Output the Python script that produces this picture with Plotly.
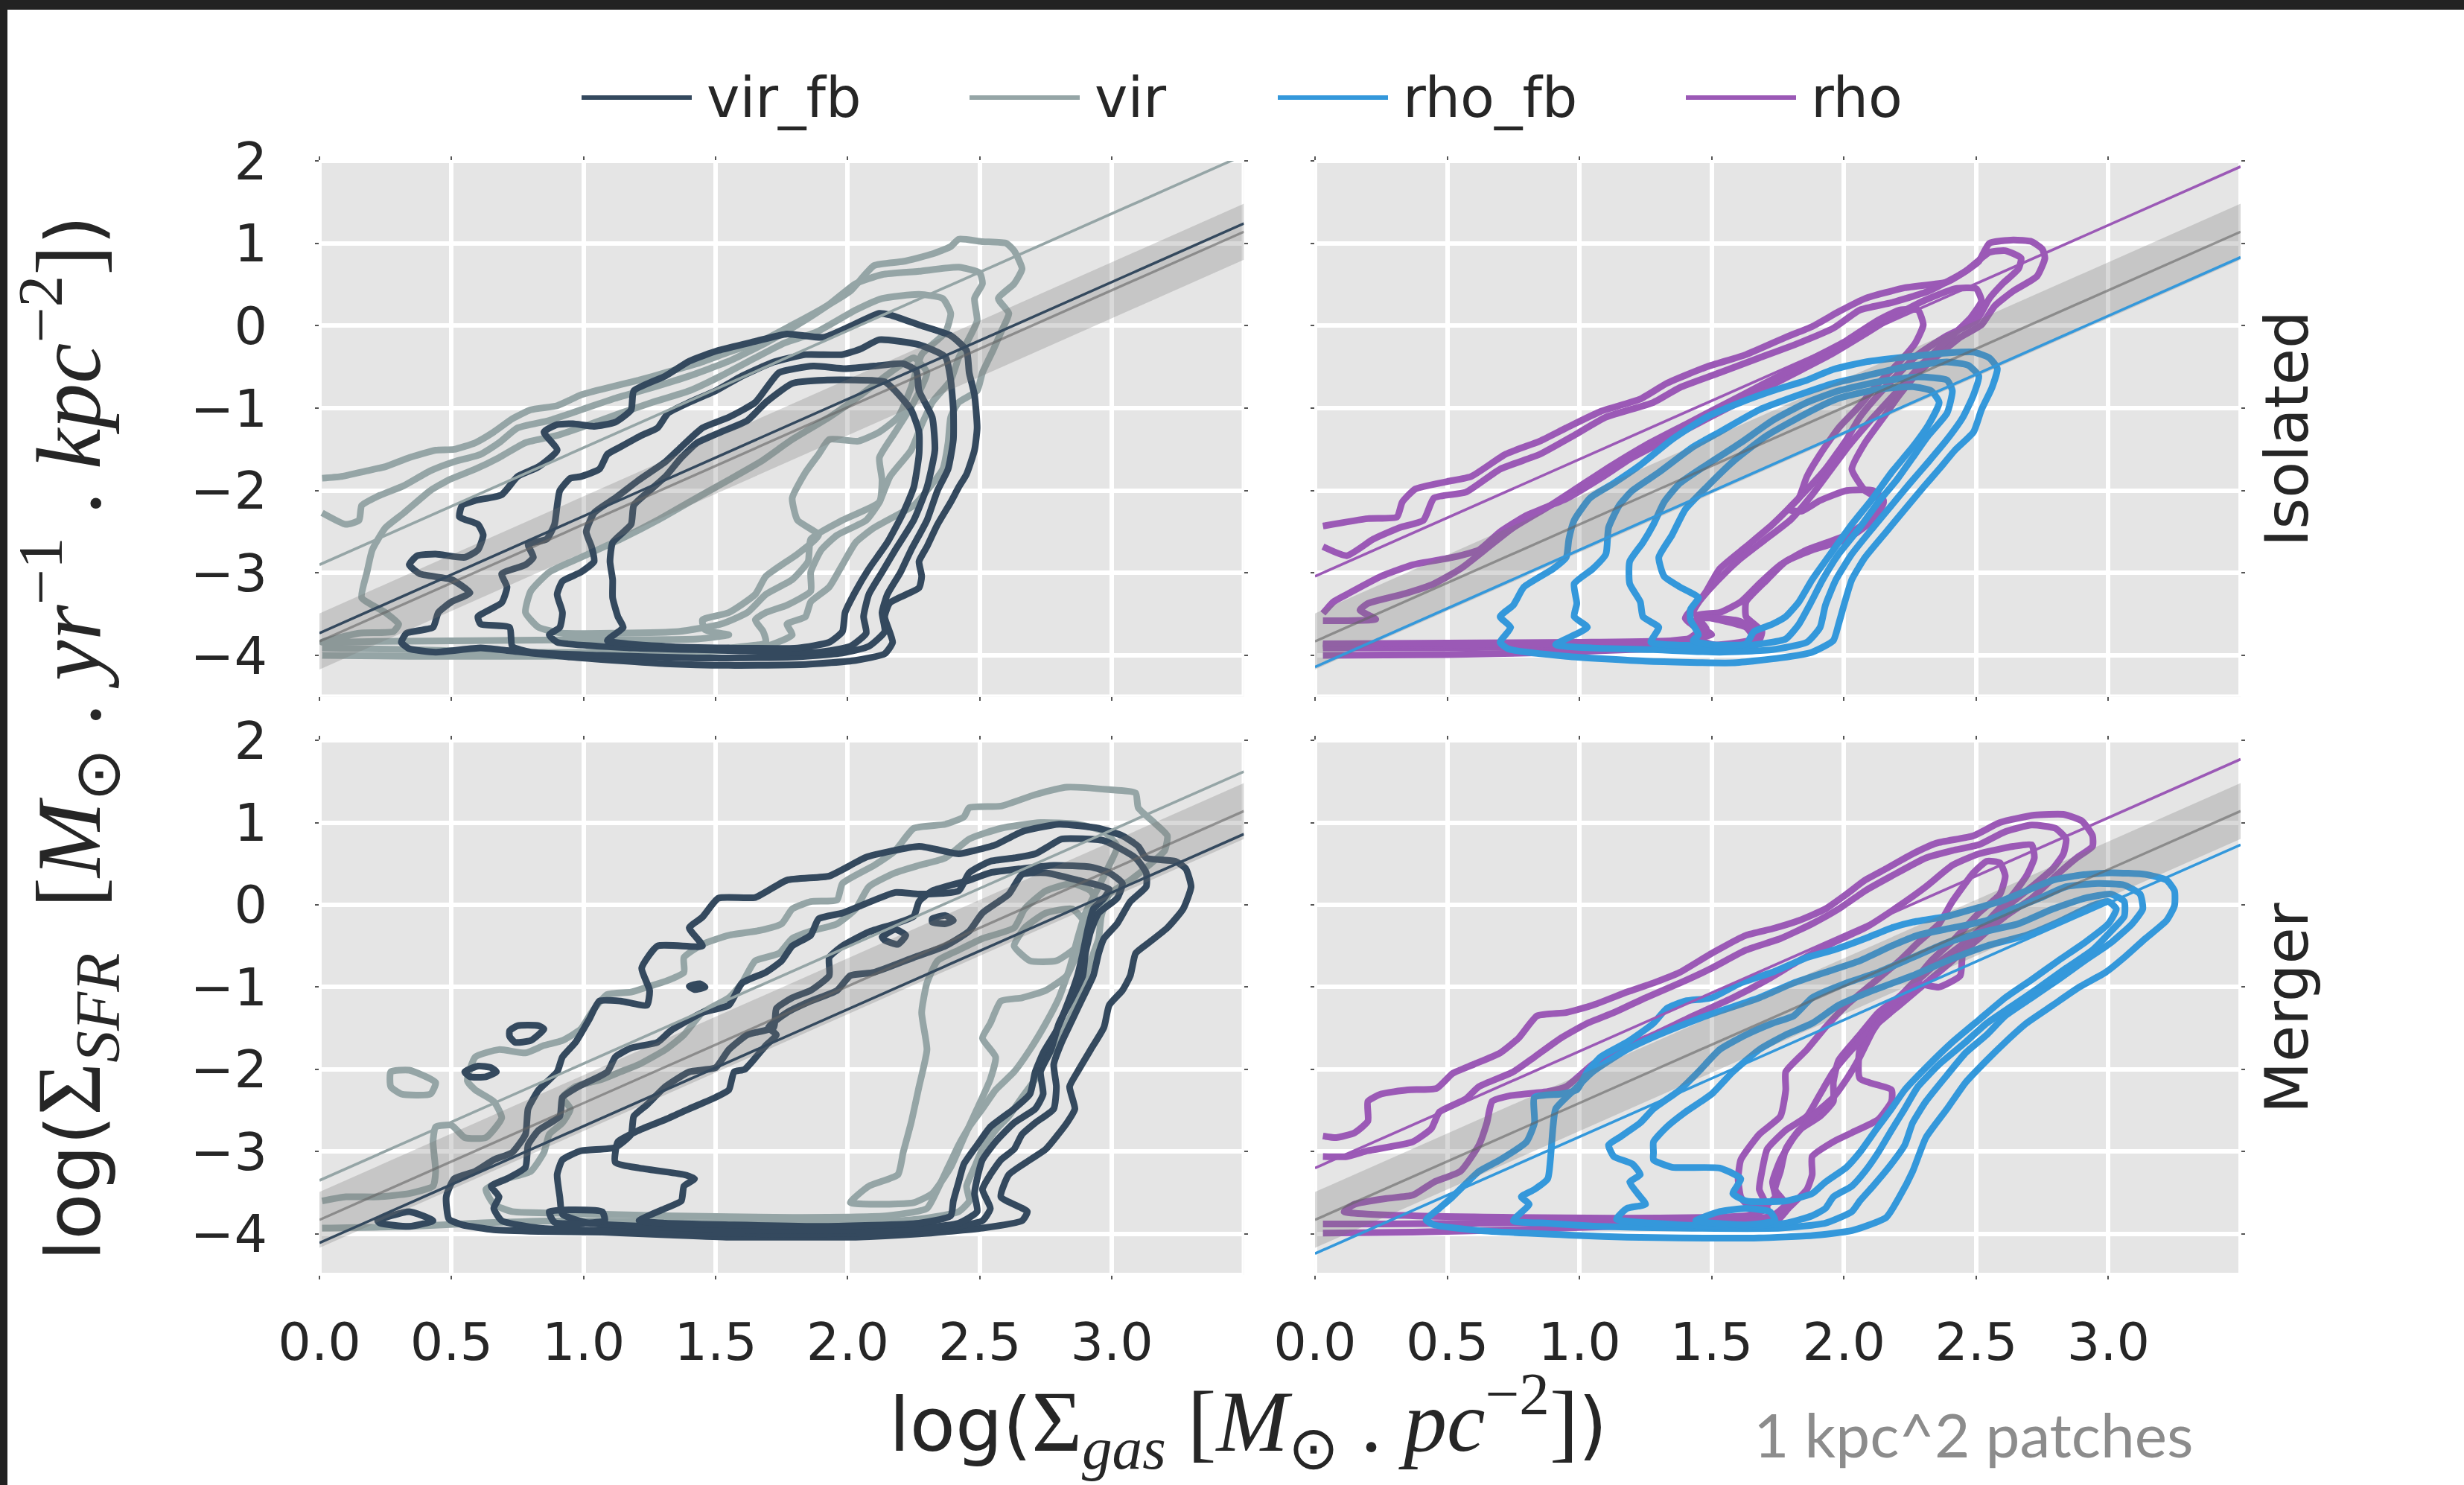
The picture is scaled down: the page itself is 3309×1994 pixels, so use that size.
import plotly.graph_objects as go

# ---------------------------------------------------------------- categories
SERIES = ["vir_fb", "vir", "rho_fb", "rho"]
SERIES_COLORS = {"vir_fb": "#34495e", "vir": "#95a5a6", "rho_fb": "#3498db", "rho": "#9b59b6"}
ROWS = ["Isolated", "Merger"]
# series shown in each column (drawn in this order)
COLUMN_SERIES = [["vir", "vir_fb"], ["rho", "rho_fb"]]

X_TICKS = [0.0, 0.5, 1.0, 1.5, 2.0, 2.5, 3.0]
X_TICK_TEXT = ["0.0", "0.5", "1.0", "1.5", "2.0", "2.5", "3.0"]
Y_TICKS = [-4, -3, -2, -1, 0, 1, 2]
Y_TICK_TEXT = ["\u22124", "\u22123", "\u22122", "\u22121", "0", "1", "2"]
X_RANGE = [0.0, 3.5]
Y_RANGE = [-4.5, 2.0]

# ------------------------------------------------------- linear fits (log-log)
FIT_SLOPE = 1.42
FIT_INTERCEPT_ISOLATED = {"vir_fb": -3.73, "vir": -2.90, "rho_fb": -4.14, "rho": -3.04}
FIT_INTERCEPT_MERGER = {"vir_fb": -4.11, "vir": -3.35, "rho_fb": -4.24, "rho": -3.20}

# Kennicutt-Schmidt reference relation and its scatter
KS_SLOPE = 1.42
KS_INTERCEPT = -3.83
KS_SCATTER = 0.34

# ------------------------------------------------ KDE contour lines (x, y)
ISOLATED_VIR_FB = [
    [(2.16, 0.13), (2.12, 0.15), (1.91, -0.14), (1.77, -0.10), (1.65, -0.19), (1.51, -0.30), (1.40, -0.43),
     (1.31, -0.61), (1.19, -0.79), (1.18, -1.02), (1.12, -1.17), (1.04, -1.22), (0.96, -1.19), (0.90, -1.20),
     (0.85, -1.29), (0.90, -1.51), (0.83, -1.71), (0.75, -1.83), (0.69, -2.05), (0.59, -2.12), (0.54, -2.18),
     (0.53, -2.32), (0.60, -2.41), (0.62, -2.54), (0.60, -2.72), (0.55, -2.81), (0.44, -2.77), (0.37, -2.79),
     (0.34, -2.90), (0.38, -3.01), (0.50, -3.08), (0.57, -3.24), (0.50, -3.35), (0.45, -3.48), (0.43, -3.66),
     (0.33, -3.73), (0.31, -3.84), (0.34, -3.92), (0.44, -3.96), (0.61, -3.91), (0.71, -3.94), (0.95, -4.02),
     (1.31, -4.10), (1.55, -4.12), (1.84, -4.11), (2.03, -4.06), (2.14, -3.98), (2.17, -3.84), (2.14, -3.53),
     (2.16, -3.36), (2.27, -3.18), (2.28, -3.04), (2.27, -2.86), (2.30, -2.68), (2.34, -2.41), (2.39, -2.14),
     (2.42, -1.96), (2.45, -1.80), (2.48, -1.51), (2.49, -1.24), (2.48, -0.84), (2.46, -0.57), (2.45, -0.30),
     (2.39, -0.12), (2.27, 0.01), (2.16, 0.13)],
    [(0.80, -3.96), (0.73, -3.89), (0.72, -3.66), (0.61, -3.62), (0.60, -3.53), (0.69, -3.36), (0.71, -3.17),
     (0.69, -3.01), (0.78, -2.90), (0.81, -2.81), (0.79, -2.65), (0.86, -2.59), (0.89, -2.41), (0.90, -2.18),
     (0.91, -2.00), (0.95, -1.85), (0.99, -1.83), (1.06, -1.74), (1.09, -1.56), (1.14, -1.47), (1.22, -1.33),
     (1.28, -1.24), (1.32, -1.06), (1.40, -0.93), (1.50, -0.79), (1.60, -0.61), (1.72, -0.44), (1.84, -0.35),
     (1.98, -0.35), (2.05, -0.28), (2.12, -0.17), (2.27, -0.23), (2.37, -0.38), (2.39, -0.66), (2.40, -1.02),
     (2.40, -1.38), (2.38, -1.74), (2.34, -2.00), (2.30, -2.36), (2.24, -2.72), (2.20, -2.99), (2.15, -3.26),
     (2.13, -3.48), (2.14, -3.71), (2.08, -3.89), (1.98, -3.97), (1.79, -4.02), (1.43, -4.03), (1.07, -4.00),
     (0.80, -3.96)],
    [(0.90, -3.84), (0.87, -3.75), (0.91, -3.66), (0.92, -3.48), (0.90, -3.26), (0.92, -3.10), (0.99, -2.99),
     (1.04, -2.86), (1.03, -2.68), (1.01, -2.50), (1.04, -2.27), (1.12, -2.09), (1.21, -1.87), (1.31, -1.65),
     (1.37, -1.47), (1.45, -1.24), (1.55, -1.11), (1.65, -0.93), (1.74, -0.57), (1.87, -0.49), (1.99, -0.52),
     (2.10, -0.49), (2.21, -0.46), (2.26, -0.55), (2.27, -0.79), (2.32, -1.11), (2.33, -1.51), (2.30, -1.96),
     (2.25, -2.36), (2.18, -2.72), (2.13, -2.99), (2.08, -3.26), (2.06, -3.53), (2.07, -3.73), (2.01, -3.89),
     (1.89, -3.96), (1.55, -3.94), (1.19, -3.91), (0.90, -3.84)],
    [(1.09, -3.82), (1.15, -3.66), (1.13, -3.53), (1.11, -3.30), (1.11, -3.08), (1.10, -2.86), (1.11, -2.63),
     (1.18, -2.41), (1.19, -2.18), (1.25, -2.00), (1.31, -1.83), (1.37, -1.60), (1.43, -1.42), (1.52, -1.29),
     (1.62, -1.15), (1.69, -0.93), (1.79, -0.70), (1.91, -0.66), (2.14, -0.68), (2.18, -0.79), (2.24, -1.02),
     (2.27, -1.29), (2.27, -1.56), (2.25, -1.96), (2.21, -2.27), (2.15, -2.63), (2.08, -2.95), (2.03, -3.22),
     (1.99, -3.48), (1.98, -3.71), (1.93, -3.84), (1.81, -3.91), (1.55, -3.91), (1.31, -3.89), (1.09, -3.82)],
]

ISOLATED_VIR = [
    [(0.01, -1.85), (0.08, -1.83), (0.18, -1.76), (0.25, -1.71), (0.34, -1.60), (0.44, -1.51), (0.51, -1.50),
     (0.59, -1.42), (0.66, -1.29), (0.73, -1.13), (0.80, -1.02), (0.90, -0.97), (0.99, -0.84), (1.07, -0.77),
     (1.21, -0.66), (1.31, -0.57), (1.43, -0.46), (1.55, -0.32), (1.67, -0.19), (1.79, 0.01), (1.91, 0.22),
     (2.01, 0.42), (2.10, 0.73), (2.21, 0.78), (2.32, 0.87), (2.39, 0.96), (2.42, 1.05), (2.51, 1.02),
     (2.60, 1.00), (2.63, 0.91), (2.66, 0.69), (2.63, 0.51), (2.57, 0.33), (2.61, 0.15), (2.58, -0.08),
     (2.55, -0.30), (2.51, -0.57), (2.49, -0.79), (2.42, -0.93), (2.39, -1.11), (2.38, -1.42), (2.36, -1.74),
     (2.30, -2.00), (2.25, -2.18), (2.10, -2.45), (2.03, -2.63), (1.98, -2.90), (1.93, -3.17), (1.86, -3.35),
     (1.84, -3.53), (1.77, -3.62), (1.79, -3.75), (1.69, -3.89), (1.31, -3.98), (0.83, -4.01), (0.34, -4.01),
     (0.01, -4.00)],
    [(0.01, -2.27), (0.10, -2.41), (0.15, -2.36), (0.16, -2.18), (0.22, -2.07), (0.32, -1.94), (0.42, -1.76),
     (0.51, -1.65), (0.61, -1.56), (0.68, -1.42), (0.75, -1.24), (0.87, -1.15), (0.99, -1.02), (1.12, -0.88),
     (1.26, -0.75), (1.40, -0.61), (1.55, -0.43), (1.69, -0.21), (1.81, 0.01), (1.93, 0.26), (2.03, 0.51),
     (2.13, 0.62), (2.27, 0.66), (2.42, 0.71), (2.50, 0.64), (2.51, 0.51), (2.48, 0.33), (2.49, 0.06),
     (2.45, -0.21), (2.42, -0.39), (2.39, -0.66), (2.32, -0.93), (2.28, -1.20), (2.24, -1.51), (2.16, -1.83),
     (2.12, -2.14), (2.07, -2.36), (1.96, -2.54), (1.90, -2.72), (1.86, -2.99), (1.86, -3.22), (1.77, -3.39),
     (1.69, -3.48), (1.65, -3.57), (1.68, -3.71), (1.69, -3.84), (1.55, -3.91), (1.19, -3.96), (0.71, -3.96),
     (0.34, -3.93), (0.01, -3.91)],
    [(0.01, -3.84), (0.15, -3.73), (0.28, -3.71), (0.30, -3.62), (0.25, -3.48), (0.16, -3.30), (0.18, -2.99),
     (0.20, -2.72), (0.25, -2.45), (0.32, -2.27), (0.42, -2.00), (0.49, -1.87), (0.59, -1.74), (0.68, -1.60),
     (0.78, -1.42), (0.90, -1.33), (1.02, -1.20), (1.14, -1.06), (1.26, -0.93), (1.40, -0.79), (1.52, -0.61),
     (1.65, -0.39), (1.76, -0.21), (1.88, -0.08), (2.03, 0.19), (2.13, 0.33), (2.27, 0.38), (2.36, 0.33),
     (2.39, 0.15), (2.37, -0.08), (2.28, -0.35), (2.24, -0.75), (2.19, -1.11), (2.12, -1.29), (2.04, -1.40),
     (1.93, -1.38), (1.89, -1.56), (1.84, -1.78), (1.79, -2.09), (1.81, -2.36), (1.89, -2.54), (1.81, -2.77),
     (1.69, -3.04), (1.65, -3.26), (1.55, -3.48), (1.45, -3.57), (1.46, -3.69), (1.55, -3.75), (1.43, -3.80),
     (1.07, -3.81), (0.59, -3.82), (0.21, -3.83), (0.01, -3.84)],
    [(0.83, -3.66), (0.78, -3.48), (0.80, -3.22), (0.87, -2.99), (0.99, -2.81), (1.14, -2.59), (1.28, -2.36),
     (1.40, -2.14), (1.55, -1.87), (1.67, -1.65), (1.79, -1.38), (1.93, -1.11), (2.05, -0.84), (2.16, -0.57),
     (2.25, -0.39), (2.30, -0.57), (2.25, -0.93), (2.18, -1.29), (2.12, -1.60), (2.13, -1.87), (2.12, -2.14),
     (1.98, -2.36), (1.86, -2.59), (1.85, -2.86), (1.79, -3.08), (1.69, -3.26), (1.62, -3.48), (1.52, -3.62),
     (1.36, -3.71), (1.12, -3.73), (0.92, -3.73), (0.83, -3.66)],
]

ISOLATED_RHO_FB = [
    [(0.70, -3.84), (0.74, -3.66), (0.70, -3.53), (0.75, -3.39), (0.79, -3.17), (0.90, -2.95), (0.95, -2.81),
     (0.96, -2.59), (0.98, -2.36), (1.04, -2.09), (1.13, -1.91), (1.23, -1.69), (1.35, -1.38), (1.48, -1.11),
     (1.61, -0.93), (1.73, -0.79), (1.86, -0.66), (1.96, -0.53), (2.08, -0.44), (2.23, -0.38), (2.39, -0.33),
     (2.49, -0.32), (2.55, -0.39), (2.58, -0.52), (2.56, -0.75), (2.52, -1.02), (2.49, -1.29), (2.42, -1.51),
     (2.36, -1.74), (2.30, -1.96), (2.23, -2.23), (2.16, -2.50), (2.08, -2.81), (2.03, -3.08), (2.00, -3.39),
     (1.98, -3.62), (1.96, -3.82), (1.88, -3.96), (1.76, -4.03), (1.58, -4.09), (1.25, -4.07), (0.95, -4.01),
     (0.73, -3.92), (0.70, -3.84)],
    [(0.91, -3.87), (1.03, -3.66), (0.98, -3.53), (0.99, -3.37), (0.98, -3.13), (1.05, -2.95), (1.10, -2.77),
     (1.11, -2.45), (1.15, -2.18), (1.20, -2.00), (1.30, -1.78), (1.43, -1.47), (1.53, -1.29), (1.68, -1.02),
     (1.83, -0.84), (1.96, -0.70), (2.08, -0.61), (2.23, -0.50), (2.39, -0.44), (2.47, -0.48), (2.51, -0.61),
     (2.49, -0.84), (2.45, -1.11), (2.39, -1.38), (2.32, -1.65), (2.25, -1.91), (2.18, -2.18), (2.11, -2.45),
     (2.03, -2.77), (1.97, -3.08), (1.93, -3.39), (1.91, -3.66), (1.86, -3.84), (1.73, -3.93), (1.53, -3.96),
     (1.28, -3.93), (1.05, -3.91), (0.91, -3.87)],
    [(1.27, -3.84), (1.30, -3.66), (1.24, -3.53), (1.23, -3.35), (1.19, -3.13), (1.19, -2.86), (1.24, -2.63),
     (1.28, -2.41), (1.32, -2.14), (1.38, -1.91), (1.48, -1.69), (1.61, -1.42), (1.73, -1.15), (1.86, -0.93),
     (1.98, -0.79), (2.13, -0.68), (2.28, -0.62), (2.39, -0.66), (2.41, -0.79), (2.39, -1.06), (2.32, -1.33),
     (2.26, -1.60), (2.20, -1.87), (2.13, -2.14), (2.06, -2.45), (1.98, -2.77), (1.92, -3.08), (1.87, -3.39),
     (1.83, -3.62), (1.78, -3.80), (1.63, -3.88), (1.43, -3.88), (1.27, -3.84)],
    [(1.43, -3.82), (1.45, -3.75), (1.42, -3.57), (1.42, -3.44), (1.45, -3.30), (1.38, -3.17), (1.32, -3.04),
     (1.30, -2.81), (1.35, -2.54), (1.40, -2.23), (1.48, -1.96), (1.58, -1.65), (1.71, -1.33), (1.86, -1.06),
     (1.98, -0.88), (2.13, -0.77), (2.26, -0.74), (2.33, -0.79), (2.36, -0.93), (2.32, -1.20), (2.26, -1.47),
     (2.18, -1.78), (2.11, -2.09), (2.03, -2.41), (1.96, -2.72), (1.88, -3.08), (1.83, -3.35), (1.78, -3.53),
     (1.73, -3.62), (1.66, -3.71), (1.63, -3.86), (1.50, -3.87), (1.43, -3.82)],
]

ISOLATED_RHO = [
    [(0.03, -2.43), (0.20, -2.34), (0.31, -2.32), (0.33, -2.14), (0.38, -1.98), (0.50, -1.89), (0.59, -1.83),
     (0.72, -1.56), (0.85, -1.40), (0.95, -1.24), (1.08, -1.04), (1.23, -0.89), (1.33, -0.70), (1.48, -0.50),
     (1.63, -0.35), (1.78, -0.14), (1.88, -0.01), (1.98, 0.17), (2.08, 0.33), (2.23, 0.46), (2.39, 0.53),
     (2.45, 0.64), (2.51, 0.78), (2.55, 1.00), (2.64, 1.04), (2.71, 1.02), (2.75, 0.93), (2.76, 0.82),
     (2.73, 0.60), (2.64, 0.42), (2.57, 0.24), (2.52, 0.01), (2.44, -0.14), (2.36, -0.35), (2.28, -0.57),
     (2.21, -0.84), (2.15, -1.11), (2.08, -1.42), (2.03, -1.74), (2.08, -2.00), (2.15, -2.14), (2.11, -2.36),
     (2.01, -2.59), (1.88, -2.72), (1.78, -2.86), (1.71, -3.08), (1.63, -3.35), (1.63, -3.53), (1.69, -3.71),
     (1.67, -3.87), (1.50, -3.91), (1.27, -3.92), (0.93, -3.96), (0.50, -3.99), (0.03, -4.00)],
    [(0.03, -2.68), (0.12, -2.79), (0.22, -2.59), (0.32, -2.45), (0.41, -2.36), (0.45, -2.09), (0.57, -2.02),
     (0.70, -1.74), (0.85, -1.56), (0.98, -1.33), (1.10, -1.11), (1.28, -0.93), (1.38, -0.75), (1.53, -0.57),
     (1.68, -0.39), (1.83, -0.21), (1.96, -0.03), (2.06, 0.19), (2.18, 0.28), (2.32, 0.42), (2.46, 0.66),
     (2.55, 0.89), (2.61, 0.91), (2.67, 0.82), (2.66, 0.69), (2.60, 0.51), (2.55, 0.33), (2.50, 0.06),
     (2.39, -0.12), (2.28, -0.35), (2.21, -0.57), (2.13, -0.84), (2.06, -1.11), (2.01, -1.38), (1.93, -1.74),
     (1.83, -2.09), (1.73, -2.41), (1.63, -2.68), (1.53, -2.95), (1.48, -3.22), (1.43, -3.48), (1.53, -3.57),
     (1.63, -3.66), (1.66, -3.80), (1.53, -3.87), (1.27, -3.87), (0.93, -3.89), (0.50, -3.91), (0.03, -3.91)],
    [(0.03, -3.49), (0.07, -3.35), (0.12, -3.26), (0.25, -3.04), (0.37, -2.90), (0.52, -2.81), (0.62, -2.72),
     (0.70, -2.50), (0.80, -2.30), (0.95, -2.10), (1.08, -1.85), (1.20, -1.60), (1.35, -1.35), (1.50, -1.10),
     (1.65, -0.85), (1.80, -0.60), (1.95, -0.35), (2.08, -0.10), (2.18, 0.10), (2.30, 0.30), (2.42, 0.45),
     (2.50, 0.45), (2.52, 0.30), (2.48, 0.10), (2.40, -0.15), (2.30, -0.45), (2.20, -0.80), (2.10, -1.15),
     (2.02, -1.45), (1.95, -1.75), (1.88, -2.05), (1.80, -2.35), (1.70, -2.60), (1.60, -2.85), (1.52, -3.10),
     (1.45, -3.35), (1.40, -3.55), (1.45, -3.70), (1.40, -3.82), (1.20, -3.85), (0.90, -3.86), (0.50, -3.87),
     (0.03, -3.88)],
    [(0.03, -3.58), (0.23, -3.56), (0.17, -3.45), (0.20, -3.37), (0.34, -3.25), (0.45, -3.13), (0.55, -2.95),
     (0.65, -2.70), (0.75, -2.45), (0.88, -2.20), (1.00, -1.95), (1.12, -1.70), (1.25, -1.45), (1.40, -1.20),
     (1.55, -0.95), (1.70, -0.70), (1.85, -0.45), (2.00, -0.20), (2.12, 0.05), (2.21, 0.19), (2.28, 0.19),
     (2.30, 0.01), (2.27, -0.21), (2.21, -0.44), (2.13, -0.70), (2.06, -0.97), (1.98, -1.24), (1.91, -1.56),
     (1.86, -1.83), (1.83, -2.09), (1.79, -2.23), (1.84, -2.25), (1.91, -2.12), (2.01, -2.00), (2.11, -2.00),
     (2.15, -2.12), (2.11, -2.32), (2.01, -2.54), (1.86, -2.72), (1.76, -2.90), (1.68, -3.13), (1.61, -3.35),
     (1.53, -3.48), (1.45, -3.51), (1.44, -3.62), (1.50, -3.75), (1.35, -3.82), (1.00, -3.84), (0.50, -3.85),
     (0.03, -3.86)],
    [(1.45, -3.55), (1.60, -3.58), (1.68, -3.72), (1.64, -3.85), (1.52, -3.88), (1.45, -3.80), (1.48, -3.68),
     (1.45, -3.55)],
]

MERGER_VIR_FB = [
    [(0.48, -3.55), (0.51, -3.33), (0.59, -3.24), (0.66, -3.10), (0.73, -3.01), (0.78, -2.79), (0.79, -2.48),
     (0.83, -2.25), (0.90, -2.03), (0.92, -1.85), (0.97, -1.67), (1.02, -1.40), (1.06, -1.17), (1.14, -1.17),
     (1.24, -1.22), (1.25, -1.04), (1.22, -0.77), (1.28, -0.50), (1.45, -0.50), (1.40, -0.28), (1.45, -0.15),
     (1.51, 0.08), (1.65, 0.09), (1.77, 0.30), (1.93, 0.35), (2.01, 0.48), (2.07, 0.58), (2.27, 0.71),
     (2.42, 0.62), (2.48, 0.66), (2.56, 0.73), (2.66, 0.89), (2.80, 0.98), (2.95, 0.93), (3.04, 0.84),
     (3.10, 0.71), (3.13, 0.57), (3.24, 0.53), (3.28, 0.44), (3.30, 0.22), (3.27, -0.05), (3.21, -0.28),
     (3.14, -0.46), (3.09, -0.59), (3.07, -0.86), (3.04, -1.04), (2.99, -1.22), (2.97, -1.49), (2.92, -1.76),
     (2.87, -2.03), (2.84, -2.21), (2.86, -2.48), (2.83, -2.65), (2.75, -2.97), (2.69, -3.10), (2.61, -3.28),
     (2.58, -3.55), (2.68, -3.73), (2.66, -3.84), (2.51, -3.93), (2.27, -4.00), (2.03, -4.04), (1.79, -4.04),
     (1.55, -4.04), (1.31, -4.01), (1.07, -3.98), (0.83, -3.97), (0.66, -3.95), (0.54, -3.89), (0.49, -3.82),
     (0.48, -3.55)],
    [(0.66, -3.69), (0.68, -3.55), (0.65, -3.42), (0.71, -3.33), (0.78, -3.19), (0.79, -2.92), (0.83, -2.74),
     (0.91, -2.57), (0.92, -2.34), (0.98, -2.21), (1.09, -2.03), (1.12, -1.85), (1.18, -1.74), (1.28, -1.67),
     (1.33, -1.53), (1.45, -1.31), (1.55, -1.22), (1.60, -0.95), (1.69, -0.82), (1.75, -0.68), (1.79, -0.50),
     (1.86, -0.37), (1.89, -0.17), (1.98, -0.10), (2.05, -0.01), (2.18, 0.15), (2.27, 0.13), (2.42, 0.17),
     (2.46, 0.39), (2.54, 0.53), (2.63, 0.57), (2.71, 0.62), (2.77, 0.73), (2.81, 0.80), (2.97, 0.78),
     (3.09, 0.57), (3.13, 0.39), (3.13, 0.22), (3.07, 0.04), (3.02, -0.23), (2.97, -0.41), (2.95, -0.59),
     (2.93, -0.86), (2.89, -1.13), (2.85, -1.40), (2.81, -1.67), (2.78, -1.94), (2.79, -2.21), (2.78, -2.48),
     (2.71, -2.65), (2.66, -2.79), (2.63, -2.97), (2.58, -3.10), (2.54, -3.28), (2.51, -3.46), (2.54, -3.69),
     (2.51, -3.84), (2.37, -3.93), (2.03, -3.99), (1.79, -4.00), (1.43, -3.99), (1.07, -3.96), (0.83, -3.93),
     (0.69, -3.84), (0.66, -3.69)],
    [(0.92, -3.76), (0.91, -3.55), (0.90, -3.28), (0.92, -3.10), (0.99, -2.99), (1.12, -2.95), (1.18, -2.79),
     (1.19, -2.57), (1.24, -2.43), (1.31, -2.21), (1.40, -2.03), (1.50, -1.98), (1.55, -1.76), (1.62, -1.58),
     (1.72, -1.49), (1.73, -1.26), (1.79, -1.13), (1.86, -1.04), (1.93, -0.86), (1.93, -0.64), (1.98, -0.50),
     (2.08, -0.33), (2.18, -0.23), (2.25, -0.14), (2.27, 0.04), (2.32, 0.17), (2.46, 0.30), (2.54, 0.39),
     (2.66, 0.44), (2.78, 0.48), (2.92, 0.46), (2.99, 0.39), (3.04, 0.26), (3.02, 0.08), (2.95, -0.10),
     (2.92, -0.32), (2.90, -0.59), (2.89, -0.86), (2.85, -1.13), (2.80, -1.44), (2.77, -1.76), (2.73, -2.03),
     (2.74, -2.30), (2.71, -2.48), (2.63, -2.65), (2.56, -2.88), (2.51, -3.10), (2.49, -3.33), (2.48, -3.51),
     (2.49, -3.73), (2.42, -3.87), (2.27, -3.93), (1.91, -3.96), (1.55, -3.95), (1.24, -3.91), (1.02, -3.87),
     (0.92, -3.76)],
    [(1.21, -3.84), (1.31, -3.69), (1.37, -3.60), (1.38, -3.42), (1.42, -3.33), (1.38, -3.28), (1.21, -3.20),
     (1.12, -3.13), (1.13, -2.88), (1.21, -2.74), (1.31, -2.61), (1.40, -2.48), (1.50, -2.34), (1.55, -2.25),
     (1.57, -2.03), (1.61, -2.00), (1.69, -1.71), (1.73, -1.58), (1.70, -1.49), (1.77, -1.31), (1.86, -1.17),
     (1.96, -1.04), (2.01, -0.86), (2.10, -0.82), (2.25, -0.64), (2.37, -0.50), (2.46, -0.32), (2.51, -0.10),
     (2.61, 0.13), (2.66, 0.37), (2.75, 0.39), (2.87, 0.30), (2.99, 0.19), (2.97, 0.08), (2.93, -0.05),
     (2.91, -0.28), (2.89, -0.59), (2.87, -0.86), (2.83, -1.22), (2.79, -1.53), (2.74, -1.80), (2.71, -2.03),
     (2.69, -2.30), (2.63, -2.48), (2.54, -2.70), (2.49, -2.92), (2.44, -3.15), (2.42, -3.37), (2.40, -3.60),
     (2.39, -3.78), (2.27, -3.87), (1.91, -3.91), (1.55, -3.89), (1.31, -3.87), (1.21, -3.84)],
    [(0.22, -3.84), (0.34, -3.73), (0.43, -3.84), (0.34, -3.91), (0.23, -3.87), (0.22, -3.84)],
    [(0.87, -3.73), (1.07, -3.73), (1.08, -3.84), (0.89, -3.86), (0.87, -3.73)],
    [(0.72, -1.53), (0.75, -1.47), (0.83, -1.47), (0.85, -1.51), (0.80, -1.65), (0.74, -1.67), (0.72, -1.60),
     (0.72, -1.53)],
    [(0.55, -2.03), (0.60, -1.96), (0.65, -1.98), (0.67, -2.03), (0.63, -2.09), (0.57, -2.09), (0.55, -2.03)],
    [(2.13, -0.39), (2.18, -0.30), (2.22, -0.37), (2.19, -0.48), (2.14, -0.43), (2.13, -0.39)],
    [(2.32, -0.17), (2.37, -0.13), (2.40, -0.19), (2.37, -0.23), (2.32, -0.21), (2.32, -0.17)],
    [(1.40, -0.99), (1.44, -0.96), (1.46, -1.00), (1.42, -1.03), (1.40, -0.99)],
]

MERGER_VIR = [
    [(0.01, -3.60), (0.10, -3.55), (0.22, -3.55), (0.34, -3.51), (0.43, -3.42), (0.44, -3.24), (0.43, -2.88),
     (0.44, -2.70), (0.50, -2.68), (0.55, -2.83), (0.63, -2.83), (0.69, -2.59), (0.66, -2.39), (0.59, -2.25),
     (0.56, -2.14), (0.59, -1.85), (0.68, -1.76), (0.78, -1.80), (0.85, -1.71), (0.92, -1.65), (0.99, -1.51),
     (1.03, -1.31), (1.09, -1.09), (1.18, -1.06), (1.24, -1.00), (1.31, -0.93), (1.38, -0.82), (1.38, -0.64),
     (1.45, -0.48), (1.55, -0.37), (1.67, -0.31), (1.75, -0.23), (1.79, -0.05), (1.86, 0.04), (1.96, 0.06),
     (1.98, 0.26), (2.10, 0.48), (2.18, 0.66), (2.25, 0.93), (2.37, 0.98), (2.44, 1.07), (2.46, 1.18),
     (2.58, 1.20), (2.71, 1.34), (2.83, 1.43), (2.99, 1.40), (3.09, 1.36), (3.10, 1.18), (3.16, 1.00),
     (3.21, 0.84), (3.20, 0.66), (3.14, 0.48), (3.07, 0.30), (2.99, 0.13), (2.96, -0.14), (2.95, -0.41),
     (2.92, -0.68), (2.89, -1.00), (2.85, -1.31), (2.80, -1.62), (2.75, -1.89), (2.71, -2.12), (2.66, -2.34),
     (2.61, -2.57), (2.56, -2.74), (2.51, -2.97), (2.48, -3.19), (2.45, -3.42), (2.46, -3.60), (2.42, -3.73),
     (2.27, -3.82), (2.03, -3.87), (1.67, -3.87), (1.31, -3.86), (0.95, -3.84), (0.59, -3.87), (0.34, -3.91),
     (0.01, -3.93)],
    [(0.66, -3.64), (0.63, -3.46), (0.71, -3.33), (0.80, -3.24), (0.85, -3.01), (0.87, -2.79), (0.92, -2.65),
     (0.95, -2.48), (0.92, -2.34), (0.97, -2.21), (1.07, -2.12), (1.14, -2.03), (1.21, -1.94), (1.31, -1.76),
     (1.38, -1.58), (1.45, -1.31), (1.55, -1.13), (1.60, -0.95), (1.65, -0.68), (1.74, -0.59), (1.79, -0.41),
     (1.86, -0.32), (1.96, -0.23), (2.03, -0.05), (2.08, 0.22), (2.18, 0.39), (2.27, 0.48), (2.37, 0.57),
     (2.46, 0.80), (2.58, 0.93), (2.73, 1.00), (2.87, 0.98), (2.97, 0.89), (3.02, 0.71), (2.99, 0.48),
     (2.95, 0.22), (2.90, -0.10), (2.87, -0.41), (2.84, -0.77), (2.80, -1.13), (2.75, -1.44), (2.69, -1.76),
     (2.63, -2.03), (2.56, -2.25), (2.51, -2.48), (2.46, -2.70), (2.42, -2.92), (2.38, -3.19), (2.34, -3.46),
     (2.30, -3.69), (2.15, -3.78), (1.79, -3.80), (1.31, -3.78), (0.95, -3.75), (0.73, -3.73), (0.66, -3.64)],
    [(2.01, -3.62), (2.08, -3.42), (2.19, -3.28), (2.21, -3.01), (2.24, -2.65), (2.27, -2.21), (2.30, -1.76),
     (2.28, -1.31), (2.30, -0.95), (2.34, -0.68), (2.42, -0.55), (2.51, -0.41), (2.63, -0.28), (2.67, -0.05),
     (2.75, 0.17), (2.85, 0.26), (2.92, 0.17), (2.95, -0.05), (2.92, -0.32), (2.87, -0.59), (2.83, -0.86),
     (2.75, -1.04), (2.66, -1.13), (2.58, -1.17), (2.54, -1.44), (2.51, -1.62), (2.56, -1.85), (2.54, -2.12),
     (2.49, -2.48), (2.44, -2.83), (2.39, -3.19), (2.32, -3.51), (2.25, -3.62), (2.13, -3.64), (2.01, -3.62)],
    [(2.63, -0.50), (2.67, -0.28), (2.75, -0.10), (2.85, -0.05), (2.90, -0.23), (2.87, -0.50), (2.79, -0.68),
     (2.69, -0.68), (2.63, -0.50)],
    [(0.27, -2.03), (0.34, -2.01), (0.44, -2.16), (0.42, -2.30), (0.31, -2.30), (0.27, -2.21), (0.27, -2.03)],
]

MERGER_RHO_FB = [
    [(0.42, -3.83), (0.47, -3.69), (0.52, -3.55), (0.62, -3.24), (0.70, -3.10), (0.80, -2.88), (0.83, -2.65),
     (0.83, -2.34), (0.93, -2.30), (0.99, -2.25), (1.03, -2.03), (1.08, -1.85), (1.18, -1.67), (1.28, -1.44),
     (1.33, -1.26), (1.40, -1.17), (1.50, -1.13), (1.61, -0.95), (1.73, -0.82), (1.86, -0.64), (1.96, -0.55),
     (2.08, -0.41), (2.18, -0.28), (2.26, -0.21), (2.39, -0.14), (2.49, -0.05), (2.59, 0.04), (2.69, 0.17),
     (2.79, 0.30), (2.89, 0.36), (3.01, 0.39), (3.14, 0.37), (3.22, 0.30), (3.25, 0.17), (3.25, -0.01),
     (3.22, -0.19), (3.14, -0.41), (3.06, -0.64), (2.99, -0.82), (2.89, -1.00), (2.79, -1.22), (2.69, -1.44),
     (2.61, -1.67), (2.54, -1.89), (2.46, -2.16), (2.39, -2.48), (2.31, -2.83), (2.26, -3.24), (2.21, -3.55),
     (2.16, -3.80), (2.03, -3.96), (1.88, -4.02), (1.68, -4.05), (1.38, -4.05), (1.18, -4.04), (1.00, -4.02),
     (0.62, -3.96), (0.45, -3.89), (0.42, -3.83)],
    [(0.75, -3.84), (0.81, -3.64), (0.78, -3.55), (0.83, -3.46), (0.88, -3.33), (0.89, -3.10), (0.90, -2.70),
     (0.91, -2.48), (0.98, -2.25), (1.05, -2.03), (1.18, -1.76), (1.30, -1.58), (1.48, -1.35), (1.68, -1.13),
     (1.81, -0.95), (1.93, -0.82), (2.06, -0.68), (2.18, -0.50), (2.28, -0.37), (2.41, -0.28), (2.54, -0.19),
     (2.64, -0.05), (2.74, 0.08), (2.84, 0.22), (2.96, 0.26), (3.06, 0.24), (3.12, 0.13), (3.13, -0.05),
     (3.09, -0.23), (3.01, -0.46), (2.91, -0.68), (2.81, -0.91), (2.71, -1.13), (2.61, -1.35), (2.54, -1.58),
     (2.46, -1.80), (2.39, -2.07), (2.31, -2.39), (2.26, -2.65), (2.23, -2.92), (2.17, -3.19), (2.11, -3.42),
     (2.06, -3.60), (2.03, -3.73), (1.93, -3.87), (1.76, -3.93), (1.38, -3.93), (1.08, -3.91), (0.88, -3.87),
     (0.75, -3.84)],
    [(1.14, -3.82), (1.18, -3.69), (1.25, -3.64), (1.22, -3.51), (1.19, -3.37), (1.23, -3.28), (1.20, -3.15),
     (1.13, -3.06), (1.11, -2.92), (1.15, -2.83), (1.23, -2.65), (1.28, -2.48), (1.38, -2.25), (1.45, -2.03),
     (1.53, -1.76), (1.63, -1.58), (1.73, -1.44), (1.81, -1.35), (1.88, -1.13), (2.01, -0.95), (2.13, -0.82),
     (2.26, -0.64), (2.39, -0.46), (2.54, -0.32), (2.66, -0.23), (2.79, -0.05), (2.91, 0.08), (3.01, 0.13),
     (3.06, 0.04), (3.06, -0.14), (3.01, -0.32), (2.94, -0.55), (2.84, -0.77), (2.74, -1.00), (2.64, -1.22),
     (2.54, -1.44), (2.46, -1.67), (2.36, -1.94), (2.28, -2.21), (2.23, -2.48), (2.18, -2.74), (2.13, -3.01),
     (2.08, -3.24), (2.03, -3.42), (1.96, -3.55), (1.93, -3.69), (1.88, -3.78), (1.78, -3.87), (1.63, -3.91),
     (1.38, -3.89), (1.14, -3.82)],
    [(1.28, -3.01), (1.28, -2.88), (1.33, -2.70), (1.40, -2.52), (1.50, -2.30), (1.58, -2.03), (1.68, -1.76),
     (1.78, -1.58), (1.88, -1.44), (1.98, -1.22), (2.11, -1.04), (2.26, -0.86), (2.39, -0.68), (2.54, -0.50),
     (2.69, -0.37), (2.81, -0.21), (2.94, -0.01), (3.00, 0.04), (3.03, -0.05), (3.00, -0.23), (2.91, -0.46),
     (2.81, -0.68), (2.71, -0.91), (2.61, -1.13), (2.51, -1.40), (2.41, -1.67), (2.31, -1.98), (2.23, -2.25),
     (2.18, -2.48), (2.12, -2.74), (2.06, -3.01), (2.01, -3.19), (1.93, -3.37), (1.88, -3.51), (1.78, -3.60),
     (1.63, -3.60), (1.58, -3.51), (1.61, -3.33), (1.53, -3.20), (1.35, -3.19), (1.28, -3.10), (1.28, -3.01)],
    [(1.44, -3.84), (1.53, -3.73), (1.63, -3.69), (1.72, -3.73), (1.74, -3.84), (1.63, -3.89), (1.44, -3.84)],
]

MERGER_RHO = [
    [(0.03, -2.81), (0.08, -2.83), (0.15, -2.77), (0.20, -2.63), (0.20, -2.39), (0.25, -2.30), (0.35, -2.25),
     (0.46, -2.23), (0.52, -2.05), (0.60, -1.94), (0.70, -1.80), (0.77, -1.62), (0.84, -1.35), (0.95, -1.31),
     (1.05, -1.22), (1.18, -1.06), (1.28, -0.95), (1.38, -0.82), (1.50, -0.59), (1.63, -0.37), (1.73, -0.29),
     (1.83, -0.19), (1.93, -0.05), (2.01, 0.13), (2.08, 0.30), (2.16, 0.44), (2.26, 0.62), (2.35, 0.75),
     (2.49, 0.84), (2.59, 1.00), (2.72, 1.09), (2.83, 1.10), (2.90, 1.02), (2.94, 0.84), (2.94, 0.71),
     (2.88, 0.57), (2.80, 0.35), (2.71, 0.08), (2.61, -0.14), (2.51, -0.41), (2.45, -0.59), (2.44, -0.86),
     (2.36, -1.00), (2.28, -0.97), (2.20, -1.20), (2.11, -1.45), (2.06, -1.75), (2.06, -2.11), (2.18, -2.25),
     (2.18, -2.39), (2.13, -2.61), (2.03, -2.77), (1.96, -2.88), (1.88, -3.06), (1.88, -3.28), (1.86, -3.46),
     (1.79, -3.69), (1.75, -3.83), (1.63, -3.87), (1.43, -3.89), (1.13, -3.91), (0.75, -3.95), (0.37, -3.98),
     (0.03, -3.99)],
    [(0.03, -3.06), (0.12, -3.06), (0.20, -2.99), (0.37, -2.88), (0.44, -2.72), (0.47, -2.52), (0.57, -2.36),
     (0.62, -2.21), (0.75, -2.03), (0.83, -1.85), (0.93, -1.62), (1.03, -1.44), (1.13, -1.31), (1.25, -1.13),
     (1.38, -0.95), (1.50, -0.77), (1.63, -0.55), (1.76, -0.41), (1.88, -0.23), (1.98, -0.05), (2.08, 0.17),
     (2.18, 0.35), (2.31, 0.57), (2.41, 0.66), (2.51, 0.73), (2.61, 0.89), (2.71, 0.97), (2.80, 0.93),
     (2.84, 0.80), (2.83, 0.62), (2.79, 0.44), (2.71, 0.22), (2.64, 0.04), (2.54, -0.23), (2.44, -0.50),
     (2.33, -0.77), (2.24, -1.04), (2.13, -1.31), (2.06, -1.58), (1.98, -1.89), (1.96, -2.16), (1.96, -2.39),
     (1.91, -2.57), (1.83, -2.74), (1.78, -2.97), (1.76, -3.24), (1.74, -3.46), (1.78, -3.64), (1.73, -3.78),
     (1.61, -3.83), (1.38, -3.84), (1.08, -3.85), (0.62, -3.87), (0.25, -3.88), (0.03, -3.88)],
    [(0.11, -3.73), (0.15, -3.64), (0.27, -3.57), (0.37, -3.53), (0.45, -3.37), (0.55, -3.24), (0.62, -2.92),
     (0.65, -2.65), (0.67, -2.39), (0.74, -2.32), (0.88, -2.27), (0.95, -2.21), (1.05, -1.94), (1.15, -1.76),
     (1.28, -1.58), (1.43, -1.35), (1.58, -1.13), (1.71, -0.91), (1.83, -0.68), (1.96, -0.46), (2.08, -0.28),
     (2.21, -0.01), (2.31, 0.22), (2.41, 0.48), (2.51, 0.62), (2.64, 0.71), (2.71, 0.73), (2.72, 0.57),
     (2.69, 0.35), (2.64, 0.13), (2.56, -0.14), (2.49, -0.41), (2.41, -0.68), (2.31, -0.95), (2.21, -1.22),
     (2.11, -1.49), (2.03, -1.76), (1.96, -2.03), (1.91, -2.30), (1.86, -2.57), (1.78, -2.74), (1.71, -2.97),
     (1.69, -3.24), (1.68, -3.46), (1.71, -3.69), (1.63, -3.78), (1.48, -3.80), (1.13, -3.81), (0.75, -3.80),
     (0.37, -3.78), (0.11, -3.73)],
    [(1.61, -3.55), (1.60, -3.33), (1.61, -3.10), (1.68, -2.79), (1.76, -2.57), (1.78, -2.25), (1.78, -2.03),
     (1.86, -1.76), (1.93, -1.49), (2.01, -1.22), (2.11, -0.95), (2.21, -0.68), (2.28, -0.46), (2.36, -0.23),
     (2.41, 0.04), (2.49, 0.39), (2.54, 0.53), (2.59, 0.51), (2.61, 0.35), (2.59, 0.13), (2.51, -0.10),
     (2.42, -0.41), (2.33, -0.68), (2.26, -0.95), (2.18, -1.22), (2.11, -1.53), (2.06, -1.85), (2.01, -2.12),
     (1.96, -2.34), (1.88, -2.57), (1.81, -2.83), (1.76, -3.10), (1.73, -3.37), (1.74, -3.55), (1.71, -3.64),
     (1.63, -3.63), (1.61, -3.55)],
]

CONTOURS = {
    ("Isolated", "vir_fb"): ISOLATED_VIR_FB,
    ("Isolated", "vir"): ISOLATED_VIR,
    ("Isolated", "rho_fb"): ISOLATED_RHO_FB,
    ("Isolated", "rho"): ISOLATED_RHO,
    ("Merger", "vir_fb"): MERGER_VIR_FB,
    ("Merger", "vir"): MERGER_VIR,
    ("Merger", "rho_fb"): MERGER_RHO_FB,
    ("Merger", "rho"): MERGER_RHO,
}
FIT_INTERCEPTS = {"Isolated": FIT_INTERCEPT_ISOLATED, "Merger": FIT_INTERCEPT_MERGER}

# ------------------------------------------------------------------ layout
W, H = 3309, 1994
M_L, M_R, M_T, M_B = 429, 300, 216, 282
PLOT_W = W - M_L - M_R
PLOT_H = H - M_T - M_B


def px_x(px):
    return (px - M_L) / PLOT_W


def px_y(py):
    return (H - M_B - py) / PLOT_H


X_DOMAINS = [[0.0, 0.4812], [0.5182, 1.0]]
Y_DOMAINS = [[0.5191, 1.0], [0.0, 0.4799]]

TEXT = "#262626"
TICK_FONT = dict(family="DejaVu Sans", size=70, color=TEXT)
CONTOUR_WIDTH = 9
FIT_WIDTH = 3.6
GRID_WIDTH = 6

fig = go.Figure()
shapes = []

for r, row in enumerate(ROWS):
    for c in range(2):
        idx = r * 2 + c + 1
        xa = "x" if idx == 1 else f"x{idx}"
        ya = "y" if idx == 1 else f"y{idx}"

        # white frame that continues the grid at the panel edges
        shapes.append(dict(type="rect", xref=xa, yref=ya, x0=X_RANGE[0], x1=X_RANGE[1],
                           y0=Y_RANGE[0], y1=Y_RANGE[1], layer="below",
                           line=dict(color="white", width=GRID_WIDTH), fillcolor="rgba(0,0,0,0)"))

        # contour lines
        for name in COLUMN_SERIES[c]:
            for line in CONTOURS[(row, name)]:
                fig.add_trace(go.Scatter(
                    x=[p[0] for p in line], y=[p[1] for p in line], mode="lines",
                    line=dict(color=SERIES_COLORS[name], width=CONTOUR_WIDTH, shape="spline", smoothing=0.5),
                    xaxis=xa, yaxis=ya, showlegend=False, hoverinfo="skip"))

        # Kennicutt-Schmidt band
        xs = X_RANGE
        lo = [KS_INTERCEPT - KS_SCATTER + KS_SLOPE * v for v in xs]
        hi = [KS_INTERCEPT + KS_SCATTER + KS_SLOPE * v for v in xs]
        fig.add_trace(go.Scatter(
            x=xs + xs[::-1], y=lo + hi[::-1], mode="lines", fill="toself",
            fillcolor="rgba(120,120,120,0.28)", line=dict(width=0),
            xaxis=xa, yaxis=ya, showlegend=False, hoverinfo="skip"))
        fig.add_trace(go.Scatter(
            x=xs, y=[KS_INTERCEPT + KS_SLOPE * v for v in xs], mode="lines",
            line=dict(color="rgba(100,100,100,0.6)", width=3.4),
            xaxis=xa, yaxis=ya, showlegend=False, hoverinfo="skip"))

        # power-law fits
        for name in COLUMN_SERIES[c]:
            b = FIT_INTERCEPTS[row][name]
            fig.add_trace(go.Scatter(
                x=xs, y=[b + FIT_SLOPE * v for v in xs], mode="lines",
                line=dict(color=SERIES_COLORS[name], width=FIT_WIDTH),
                xaxis=xa, yaxis=ya, showlegend=False, hoverinfo="skip"))

        axis_common = dict(showgrid=True, gridcolor="white", gridwidth=GRID_WIDTH, zeroline=False,
                           ticks="outside", ticklen=5, tickwidth=2, tickcolor="#555555",
                           mirror="ticks", showline=False, tickfont=TICK_FONT)
        fig.layout[f"xaxis{'' if idx == 1 else idx}"] = dict(
            axis_common, domain=X_DOMAINS[c], range=X_RANGE, tickmode="array",
            tickvals=X_TICKS, ticktext=X_TICK_TEXT, showticklabels=(r == 1),
            ticklabelstandoff=24, anchor=ya)
        fig.layout[f"yaxis{'' if idx == 1 else idx}"] = dict(
            axis_common, domain=Y_DOMAINS[r], range=Y_RANGE, tickmode="array",
            tickvals=Y_TICKS, ticktext=Y_TICK_TEXT, showticklabels=(c == 0),
            ticklabelstandoff=50, anchor=xa)

annotations = []

# legend drawn along the top
LEGEND_X = [781, 1302, 1716, 2264]
LEGEND_Y = 131
for name, x0 in zip(SERIES, LEGEND_X):
    shapes.append(dict(type="line", xref="paper", yref="paper",
                       x0=px_x(x0), x1=px_x(x0 + 148), y0=px_y(LEGEND_Y), y1=px_y(LEGEND_Y),
                       line=dict(color=SERIES_COLORS[name], width=6)))
    annotations.append(dict(text=name, xref="paper", yref="paper", x=px_x(x0 + 166), y=px_y(LEGEND_Y),
                            xanchor="left", yanchor="middle", showarrow=False,
                            font=dict(family="DejaVu Sans", size=75, color=TEXT)))

# row labels
for row, yc in zip(ROWS, [575, 1353]):
    annotations.append(dict(text=row, xref="paper", yref="paper", x=px_x(3071), y=px_y(yc),
                            textangle=-90, showarrow=False, xanchor="center", yanchor="middle",
                            font=dict(family="DejaVu Sans", size=80, color=TEXT)))

MATH_X = "font-family:'Liberation Serif';font-size:116px"
MATH_Y = "font-family:'Liberation Serif';font-size:122px"
x_title = ("log(<span style=\"" + MATH_X + "\">\u03a3<sub><i>gas</i></sub> [<i>M</i><sub>\u2299</sub> . "
           "<i>pc</i><sup>\u22122</sup>]</span>)")
y_title = ("log(<span style=\"" + MATH_Y + "\">\u03a3<sub><i>SFR</i></sub>  [<i>M</i><sub>\u2299</sub> . "
           "<i>yr</i><sup>\u22121</sup> . <i>kpc</i><sup>\u22122</sup>]</span>)")
annotations.append(dict(text=x_title, xref="paper", yref="paper", x=px_x(1676), y=px_y(1908),
                        showarrow=False, xanchor="center", yanchor="middle",
                        font=dict(family="DejaVu Sans", size=100, color=TEXT)))
annotations.append(dict(text=y_title, xref="paper", yref="paper", x=px_x(92), y=px_y(991),
                        textangle=-90, showarrow=False, xanchor="center", yanchor="middle",
                        font=dict(family="DejaVu Sans", size=102, color=TEXT)))
annotations.append(dict(text="1 kpc^2 patches", xref="paper", yref="paper", x=px_x(2650), y=px_y(1925),
                        showarrow=False, xanchor="center", yanchor="middle",
                        font=dict(family="Lato", size=82, color="#8c8c8c")))

# dark frame strips on the top and left edges
shapes.append(dict(type="rect", xref="paper", yref="paper", x0=px_x(0), x1=px_x(W), y0=px_y(13), y1=px_y(0),
                   fillcolor="#222222", line=dict(width=0), layer="above"))
shapes.append(dict(type="rect", xref="paper", yref="paper", x0=px_x(0), x1=px_x(10), y0=px_y(H), y1=px_y(0),
                   fillcolor="#222222", line=dict(width=0), layer="above"))

fig.update_layout(
    width=W, height=H, margin=dict(l=M_L, r=M_R, t=M_T, b=M_B),
    paper_bgcolor="white", plot_bgcolor="#e5e5e5",
    showlegend=False, annotations=annotations, shapes=shapes,
)

fig.write_html("out.html")
